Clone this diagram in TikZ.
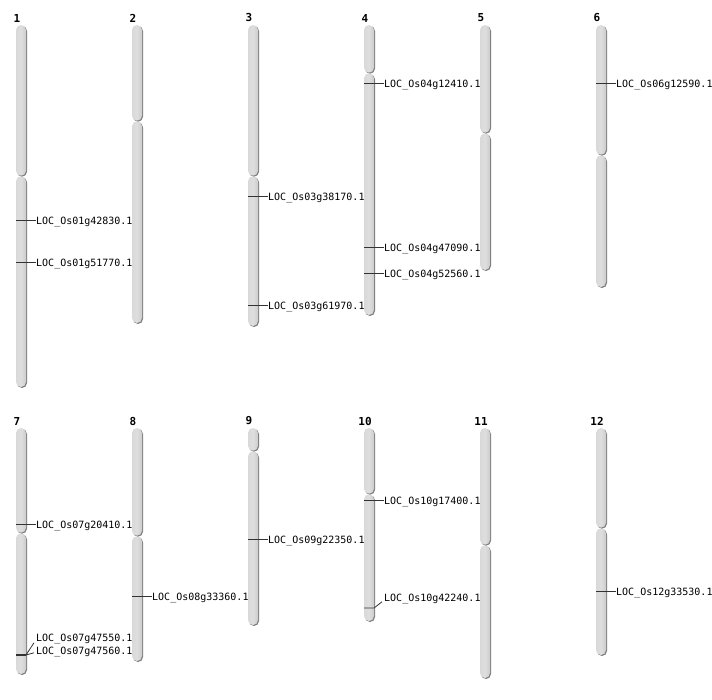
\documentclass[tikz,border=0pt]{standalone}
\usepackage{fontspec}
\setmainfont{DejaVu Sans}
\newfontfamily\labfont{DejaVu Sans Mono}
\begin{document}
\begin{tikzpicture}[x=1pt,y=-1pt,
  chrnum/.style={inner sep=0pt,font=\labfont\bfseries\fontsize{11}{11}\selectfont},
  genelab/.style={anchor=west,inner sep=0pt,font=\labfont\fontsize{10}{10}\selectfont},
  leader/.style={line width=0.8pt,draw=black!80},
  shadowc/.style={fill=black!50},
  bodyc/.style={left color=black!15,right color=black!20,middle color=black!13}]
\useasboundingbox (0,0) rectangle (712,700);
\newcommand\seg[3]{% x, y1, y2
  \fill[shadowc,rounded corners=5pt] ({#1-4},{#2+1}) rectangle ({#1+6},{#3+1});
  \shade[bodyc,rounded corners=5pt] ({#1-5},{#2}) rectangle ({#1+5},{#3});
}
\newcommand\chrm[6]{% name, num, x, top, cent, bottom
  \seg{#3}{#5+0.3}{#6}
  \seg{#3}{#4}{#5-0.3}
  \node[chrnum] (#1) at ({#3-4},{#4-7}) {#2};
}
\newcommand\gene[4]{% name, x, y, text
  \coordinate (#1a) at ({#2-5},{#3});
  \node[genelab] (#1) at ({#2+15},{#3+1.8}) {#4};
  \draw[leader] (#1a) -- (#1a -| #1.west);
}
% row 1
\chrm{c1}{1}{21}{25}{176}{387}
\chrm{c2}{2}{137}{25}{121}{323}
\chrm{c3}{3}{253}{25}{176}{326}
\chrm{c4}{4}{369}{25}{73}{315}
\chrm{c5}{5}{485}{25}{133}{270}
\chrm{c6}{6}{601}{25}{155}{287}
% row 2
\chrm{c7}{7}{21}{428}{533}{674}
\chrm{c8}{8}{137}{428}{536}{661}
\chrm{c9}{9}{253}{428}{451}{625}
\chrm{c10}{10}{369}{428}{494}{621}
\chrm{c11}{11}{485}{428}{545}{678}
\chrm{c12}{12}{601}{428}{528}{655}
% genes
\gene{g1}{21}{220}{LOC\_Os01g42830.1}
\gene{g2}{21}{262}{LOC\_Os01g51770.1}
\gene{g3}{253}{196}{LOC\_Os03g38170.1}
\gene{g4}{253}{305}{LOC\_Os03g61970.1}
\gene{g5}{369}{83}{LOC\_Os04g12410.1}
\gene{g6}{369}{247}{LOC\_Os04g47090.1}
\gene{g7}{369}{273}{LOC\_Os04g52560.1}
\gene{g8}{601}{83}{LOC\_Os06g12590.1}
\gene{g9}{21}{524}{LOC\_Os07g20410.1}
\gene{g10}{137}{596}{LOC\_Os08g33360.1}
\gene{g11}{253}{539}{LOC\_Os09g22350.1}
\gene{g12}{369}{500}{LOC\_Os10g17400.1}
\gene{g13}{601}{591}{LOC\_Os12g33530.1}
% chr 10 lower gene with bent leader
\coordinate (g14a) at (364,608);
\coordinate (g14b) at (374,608);
\node[genelab] (g14) at (384,598.8) {LOC\_Os10g42240.1};
\draw[leader] (g14a) -- (g14b) -- ([xshift=-2pt,yshift=-3pt]g14.west);
% chr 7 double gene
\coordinate (g15a) at (16,655);
\coordinate (g15b) at (26,655);
\node[genelab] (g15) at (36,638.8) {LOC\_Os07g47550.1};
\node[genelab] (g16) at (36,651.8) {LOC\_Os07g47560.1};
\draw[leader,line width=1.4pt] (g15a) -- (g15b);
\draw[leader] (g15b) -- ([xshift=-2pt,yshift=-4pt]g15.west);
\draw[leader] (g15b) -- ([xshift=-2pt,yshift=-1pt]g16.west);
\end{tikzpicture}
\end{document}
